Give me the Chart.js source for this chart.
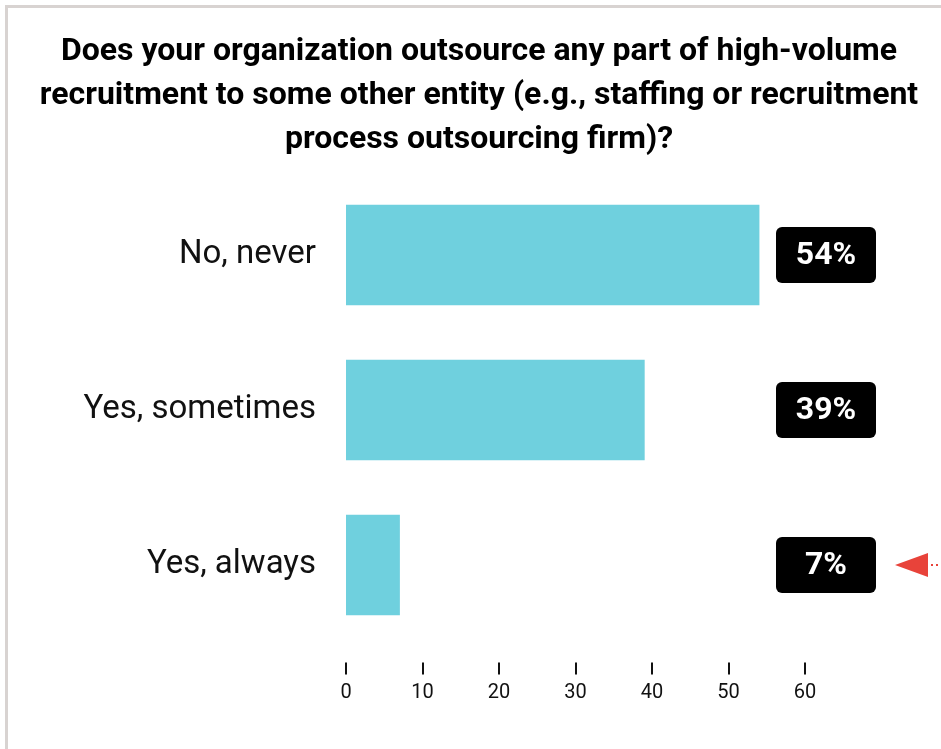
<!DOCTYPE html>
<html>
<head>
<meta charset="utf-8">
<script src="https://cdn.jsdelivr.net/npm/chart.js@4/dist/chart.umd.min.js"></script>
<style>
  html, body { margin: 0; padding: 0; background: #fff; }
  #wrap { position: relative; width: 941px; height: 749px; overflow: hidden; }
  #frame {
    position: absolute; left: 5px; top: 5px; right: -10px; bottom: -10px;
    border-left: 3px solid #d8d3d1; border-top: 3px solid #d8d3d1;
    pointer-events: none;
  }
  canvas { position: absolute; left: 0; top: 0; }
</style>
</head>
<body>
<div id="wrap">
  <div id="frame"></div>
  <canvas id="chart" width="941" height="749"></canvas>
</div>
<script>
const titleLines = [
  'Does your organization outsource any part of high-volume',
  'recruitment to some other entity (e.g., staffing or recruitment',
  'process outsourcing firm)?'
];
const categories = ['No, never', 'Yes, sometimes', 'Yes, always'];
const shares = [54, 39, 7];
const xMin = 0, xMax = 60, xStep = 10;

const barColor = '#6fd0de';
const textColor = '#111';

// three-line heading above the plot
const heading = {
  id: 'heading',
  afterDraw(chart) {
    const { ctx } = chart;
    ctx.save();
    ctx.fillStyle = '#000';
    ctx.font = 'bold 32px Roboto';
    ctx.textAlign = 'center';
    ctx.textBaseline = 'alphabetic';
    titleLines.forEach((line, i) => ctx.fillText(line, 479, 60 + i * 44));
    ctx.restore();
  }
};

// black pill with the percentage next to each bar, arrow on the last row
const valueBoxes = {
  id: 'valueBoxes',
  afterDatasetsDraw(chart) {
    const { ctx, chartArea } = chart;
    const meta = chart.getDatasetMeta(0);
    const cx = chartArea.right + 21;
    ctx.save();
    meta.data.forEach((bar, i) => {
      const y = bar.y;
      ctx.fillStyle = '#000';
      ctx.beginPath();
      ctx.roundRect(cx - 50, y - 28, 100, 56, 6);
      ctx.fill();
      ctx.fillStyle = '#fff';
      ctx.font = 'bold 32px Roboto';
      ctx.textAlign = 'center';
      ctx.textBaseline = 'middle';
      ctx.fillText(shares[i] + '%', cx, y + 1);

      if (i === meta.data.length - 1) {
        const tip = cx + 50 + 19;
        ctx.fillStyle = '#e8433a';
        ctx.beginPath();
        ctx.moveTo(tip, y);
        ctx.lineTo(tip + 33, y - 12);
        ctx.lineTo(tip + 33, y + 12);
        ctx.closePath();
        ctx.fill();
        for (let x = tip + 36; x < chart.width; x += 5) {
          ctx.fillRect(x, y - 1, 2, 2);
        }
      }
    });
    ctx.restore();
  }
};

// short tick marks sitting just above the x labels
const xTickMarks = {
  id: 'xTickMarks',
  afterDraw(chart) {
    const { ctx, chartArea } = chart;
    const scale = chart.scales.x;
    ctx.save();
    ctx.strokeStyle = textColor;
    ctx.lineWidth = 2;
    scale.ticks.forEach(t => {
      const px = Math.round(scale.getPixelForValue(t.value));
      ctx.beginPath();
      ctx.moveTo(px, chartArea.bottom + 20);
      ctx.lineTo(px, chartArea.bottom + 32);
      ctx.stroke();
    });
    ctx.restore();
  }
};

new Chart(document.getElementById('chart'), {
  type: 'bar',
  data: {
    labels: categories,
    datasets: [{
      data: shares,
      backgroundColor: barColor,
      borderWidth: 0,
      barThickness: 100
    }]
  },
  options: {
    indexAxis: 'y',
    responsive: false,
    animation: false,
    layout: { padding: { left: 0, right: 136, top: 177.5, bottom: 6.5 } },
    plugins: {
      legend: { display: false },
      tooltip: { enabled: false },
      title: { display: false }
    },
    scales: {
      x: {
        min: xMin,
        max: xMax,
        grid: { display: false, drawTicks: false },
        border: { display: false },
        ticks: {
          stepSize: xStep,
          padding: 38,
          color: textColor,
          font: { family: 'Roboto', size: 20 }
        }
      },
      y: {
        grid: { display: false, drawTicks: false },
        border: { display: false },
        afterFit(scale) { scale.width = 346; },
        ticks: {
          padding: 30,
          color: textColor,
          font: { family: 'Roboto', size: 33 }
        }
      }
    }
  },
  plugins: [valueBoxes, xTickMarks, heading]
});
</script>
</body>
</html>
